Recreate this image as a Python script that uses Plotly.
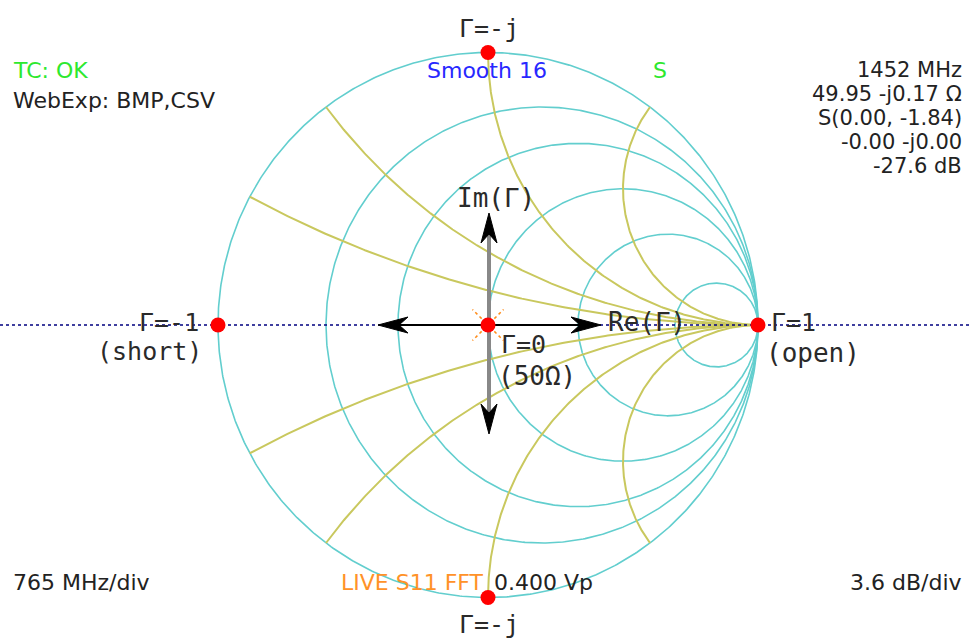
import numpy as np
import plotly.graph_objects as go

# ---------------- data ----------------
resistance_values = [0, 0.25, 0.5, 1, 2, 5.5]
reactance_values = [0.25, 0.5, 1, 2]
marker_gamma_re = [-1, 1, 0, 0, 0]
marker_gamma_im = [0, 0, 1, -1, 0]
status_left = ["TC: OK", "WebExp: BMP,CSV"]
status_left_colors = ["#2ee82e", "#222222"]
readout_lines = ["1452 MHz", "49.95 -j0.17 Ω", "S(0.00, -1.84)", "-0.00 -j0.00", "-27.6 dB"]
bottom_left = "765 MHz/div"
bottom_right = "3.6 dB/div"
bottom_mid_a = "LIVE S11 FFT"
bottom_mid_b = "0.400 Vp"
top_mid = "Smooth 16"
top_s = "S"

# ---------------- geometry (pixel mapping) ----------------
W, H = 969, 638
CX, CY, SX, SY = 488, 325, 270, 272.5


def dx(px):
    return (px - CX) / SX


def dy(py):
    return (CY - py) / SY


def PX(px):
    return px / W


def PY(py):
    return 1 - py / H


CYAN = "#62cece"
YELLOW = "#c9c85e"
fig = go.Figure()

# constant resistance circles
th = np.linspace(0, 2 * np.pi, 721)
for r in resistance_values:
    c = r / (1 + r)
    rad = 1 / (1 + r)
    fig.add_trace(go.Scatter(x=c + rad * np.cos(th), y=rad * np.sin(th), mode="lines",
                             line=dict(color=CYAN, width=1.6), hoverinfo="skip"))

# constant reactance arcs
rs = np.concatenate([np.linspace(0, 1, 200), np.geomspace(1, 1e4, 400)])
for xv in reactance_values:
    for s in (1, -1):
        z = rs + 1j * s * xv
        g = (z - 1) / (z + 1)
        fig.add_trace(go.Scatter(x=g.real, y=g.imag, mode="lines",
                                 line=dict(color=YELLOW, width=2), hoverinfo="skip"))

# dotted real axis
fig.add_trace(go.Scatter(x=[dx(0), dx(W)], y=[0, 0], mode="lines",
                         line=dict(color="#000080", width=1.5, dash="dot"), hoverinfo="skip"))


def dart(tipx, tipy, ux, uy, L=30, Wd=8, notch=9, color="black"):
    px_, py_ = -uy, ux
    bx, by = tipx - ux * L, tipy - uy * L
    nx, ny = tipx - ux * (L - notch), tipy - uy * (L - notch)
    pts = [(tipx, tipy), (bx + px_ * Wd, by + py_ * Wd), (nx, ny), (bx - px_ * Wd, by - py_ * Wd), (tipx, tipy)]
    fig.add_trace(go.Scatter(x=[dx(p[0]) for p in pts], y=[dy(p[1]) for p in pts], mode="lines",
                             fill="toself", fillcolor=color, line=dict(color=color, width=1),
                             hoverinfo="skip"))


# vertical grey arrow (Im)
v_top, v_bot = 213, 434
fig.add_trace(go.Scatter(x=[dx(CX + 1), dx(CX + 1)], y=[dy(v_top + 20), dy(v_bot - 20)], mode="lines",
                         line=dict(color="#888888", width=4), hoverinfo="skip"))
dart(CX + 1, v_top, 0, -1)
dart(CX + 1, v_bot, 0, 1)
# horizontal black arrow (Re)
h_left, h_right = 378, 601
fig.add_trace(go.Scatter(x=[dx(h_left + 20), dx(h_right - 20)], y=[0, 0], mode="lines",
                         line=dict(color="black", width=2), hoverinfo="skip"))
dart(h_left, CY, -1, 0)
dart(h_right, CY, 1, 0)

# orange rays around centre
for ang in (45, 135, 225, 315):
    a = np.deg2rad(ang)
    fig.add_trace(go.Scatter(x=[dx(CX + 9 * np.cos(a)), dx(CX + 22 * np.cos(a))],
                             y=[dy(CY - 9 * np.sin(a)), dy(CY - 22 * np.sin(a))], mode="lines",
                             line=dict(color="#ff8c1a", width=1.5, dash="dot"), hoverinfo="skip"))

# red markers
fig.add_trace(go.Scatter(x=marker_gamma_re, y=marker_gamma_im, mode="markers",
                         marker=dict(color="#ff0000", size=15, line=dict(width=0)), hoverinfo="skip"))

SANS = "DejaVu Sans"
MONO = "DejaVu Sans Mono"
ann = []


def text(t, x, y, anchor="left", color="#222222", size=22, family=SANS):
    ann.append(dict(text=t, x=PX(x), y=PY(y), xref="paper", yref="paper", xanchor=anchor,
                    yanchor="middle", showarrow=False, font=dict(family=family, size=size, color=color)))


# status
text(status_left[0], 11, 70, color=status_left_colors[0])
text(status_left[1], 11, 100, color=status_left_colors[1])
for i, t in enumerate(readout_lines):
    text(t, 964, 70 + i * 24, anchor="right", size=21)
text(top_mid, 487, 70, anchor="center", color="#2828ff")
text(top_s, 660, 70, anchor="center", color="#2ee82e")
text(bottom_left, 11, 582)
text(bottom_right, 964, 582, anchor="right")
text(bottom_mid_a, 486, 582, anchor="right", color="#ff9228")
text(bottom_mid_b, 492, 582, anchor="left")

# chart labels
LBL = "#2a2a2a"
text("Γ=-j", 489, 29, anchor="center", color=LBL, size=25, family=MONO)
text("Γ=-j", 489, 624, anchor="center", color=LBL, size=25, family=MONO)
text("Γ=-1", 201, 322, anchor="right", color=LBL, size=25, family=MONO)
text("(short)", 204, 351, anchor="right", color=LBL, size=25, family=MONO)
text("Γ=1", 769, 322, anchor="left", color=LBL, size=25, family=MONO)
text("(open)", 764, 353, anchor="left", color=LBL, size=26, family=MONO)
text("Re(Γ)", 606, 322, anchor="left", color=LBL, size=26, family=MONO)
text("Im(Γ)", 496, 198, anchor="center", color=LBL, size=26, family=MONO)
text("Γ=0", 499, 344, anchor="left", color=LBL, size=25, family=MONO)
text("(50Ω)", 496, 376, anchor="left", color=LBL, size=26, family=MONO)

fig.update_layout(
    width=W, height=H, margin=dict(l=0, r=0, t=0, b=0),
    paper_bgcolor="white", plot_bgcolor="white", showlegend=False,
    xaxis=dict(range=[dx(0), dx(W)], visible=False, fixedrange=True),
    yaxis=dict(range=[dy(H), dy(0)], visible=False, fixedrange=True),
    annotations=ann,
)
fig.write_html("out.html")
